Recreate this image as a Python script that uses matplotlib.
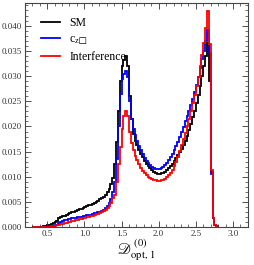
import numpy as np
import matplotlib
matplotlib.use("Agg")
import matplotlib.pyplot as plt
from matplotlib.ticker import MultipleLocator, FormatStrFormatter

plt.rcParams["font.family"] = ["Liberation Serif", "DejaVu Serif"]
plt.rcParams["mathtext.fontset"] = "stix"

# ---- data: binned distributions, bins of 0.025 from 0.3 to 2.8 (values x 1e-3)
bin_edges = np.linspace(0.3, 2.8, 101)

sm = [
    0.02, 0.03, 0.05, 0.08, 0.12, 0.17, 0.23, 0.30, 0.38, 0.48, 0.60, 0.78,
    1.00, 1.35, 1.85, 2.05, 2.20, 2.35, 2.50, 2.65, 2.80, 2.95, 3.10, 3.25,
    3.40, 3.55, 3.70, 3.85, 4.00, 4.17, 4.34, 4.52, 4.70, 4.90, 5.10, 5.32,
    5.55, 5.80, 6.10, 6.50, 7.00, 7.60, 8.50, 9.80, 12.5, 17.0, 23.0, 29.0,
    32.0, 33.2, 34.0, 32.0, 26.0, 21.5, 18.5, 17.2, 16.3, 15.4, 14.6, 13.9,
    13.2, 12.6, 12.1, 11.7, 11.3, 11.0, 10.8, 10.65, 10.6, 10.7, 10.85, 11.05,
    11.3, 11.7, 12.1, 12.6, 13.1, 13.7, 14.3, 14.9, 15.5, 16.3, 17.2, 18.2,
    19.3, 20.5, 21.8, 23.1, 24.6, 26.2, 28.0, 30.0, 32.0, 34.0, 36.5, 29.0,
    11.0, 1.8, 0.5, 0.2,
]

cz = [
    0.00, 0.01, 0.02, 0.03, 0.04, 0.06, 0.08, 0.11, 0.14, 0.18, 0.23, 0.30,
    0.40, 0.55, 0.85, 1.05, 1.25, 1.40, 1.52, 1.62, 1.70, 1.78, 1.86, 1.94,
    2.01, 2.08, 2.15, 2.22, 2.30, 2.38, 2.46, 2.55, 2.65, 2.75, 2.86, 2.98,
    3.12, 3.28, 3.48, 3.75, 4.15, 4.75, 5.70, 7.10, 9.00, 13.5, 20.0, 26.5,
    29.5, 30.5, 31.1, 29.8, 25.0, 21.5, 19.5, 18.3, 17.2, 16.2, 15.3, 14.5,
    13.8, 13.2, 12.7, 12.3, 12.0, 11.8, 11.65, 11.6, 11.6, 11.75, 12.0, 12.35,
    12.8, 13.3, 13.9, 14.6, 15.3, 16.1, 17.0, 17.9, 18.9, 19.9, 21.0, 22.1,
    23.0, 24.2, 25.4, 26.8, 28.3, 29.9, 31.6, 33.3, 35.0, 37.0, 39.1, 34.5,
    10.6, 1.8, 0.5, 0.2,
]

interf = [
    0.00, 0.01, 0.01, 0.02, 0.03, 0.05, 0.07, 0.09, 0.12, 0.15, 0.19, 0.24,
    0.30, 0.40, 0.52, 0.62, 0.72, 0.82, 0.92, 1.02, 1.12, 1.22, 1.32, 1.42,
    1.52, 1.62, 1.72, 1.82, 1.92, 2.02, 2.12, 2.23, 2.34, 2.46, 2.58, 2.70,
    2.85, 3.00, 3.20, 3.45, 3.80, 4.25, 4.90, 5.80, 6.50, 9.00, 12.5, 16.0,
    19.5, 22.0, 23.1, 22.0, 19.0, 16.8, 15.3, 14.2, 13.3, 12.5, 11.8, 11.2,
    10.7, 10.3, 10.0, 9.75, 9.55, 9.40, 9.30, 9.25, 9.25, 9.30, 9.40, 9.60,
    9.90, 10.3, 10.8, 11.4, 12.2, 13.0, 14.0, 15.1, 16.3, 17.5, 18.8, 20.1,
    21.5, 23.0, 24.6, 26.3, 28.0, 29.9, 32.0, 34.2, 36.6, 39.5, 42.8, 36.3,
    11.4, 1.9, 0.5, 0.2,
]

series = [
    ("SM", sm, "black"),
    (r"c$_{\mathrm{z}□}$", cz, "#0000ff"),
    ("Interference", interf, "#ff0000"),
]

fig = plt.figure(figsize=(2.54, 2.65), dpi=100)
ax = fig.add_axes([0.098, 0.142, 0.878, 0.847])

for label, vals, col in series:
    ax.stairs(np.array(vals) * 1e-3, bin_edges, color=col, linewidth=1.3,
              label=label)

ax.set_xlim(0.2, 3.2)
ax.set_ylim(0, 0.0445)
ax.xaxis.set_major_locator(MultipleLocator(0.5))
ax.xaxis.set_minor_locator(MultipleLocator(0.1))
ax.yaxis.set_major_locator(MultipleLocator(0.005))
ax.yaxis.set_minor_locator(MultipleLocator(0.001))
ax.xaxis.set_major_formatter(FormatStrFormatter("%.1f"))
ax.yaxis.set_major_formatter(FormatStrFormatter("%.3f"))
ax.tick_params(which="both", direction="in", top=True, right=True,
               labelsize=6.5, colors="#333333", pad=2)
ax.tick_params(which="major", length=4, width=0.6)
ax.tick_params(which="minor", length=2, width=0.5)
for sp in ax.spines.values():
    sp.set_color("#444444")
    sp.set_linewidth(0.8)

ax.set_xlabel(r"$\mathscr{D}^{\,(0)}_{\mathrm{opt,\,1}}$", fontsize=11)
ax.xaxis.set_label_coords(0.5, -0.045)

ax.legend(loc="upper left", frameon=False, fontsize=8.5, handlelength=1.6,
          handletextpad=0.8, labelspacing=0.35, borderaxespad=0.6,
          bbox_to_anchor=(0.02, 0.99))

fig.savefig("out.png", dpi=100)
